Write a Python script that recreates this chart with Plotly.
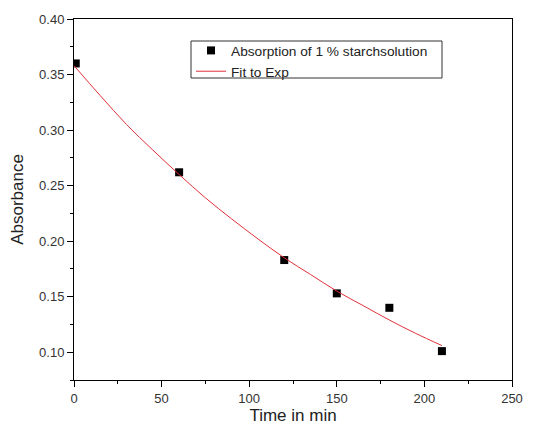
import plotly.graph_objects as go

# measured data
time_min = [1, 60, 120, 150, 180, 210]
absorbance = [0.360, 0.262, 0.183, 0.153, 0.140, 0.101]

# exponential fit curve
fit_time = [0, 15, 30, 45, 60, 75, 90, 105, 120, 135, 150, 165, 180, 195, 210]
fit_abs = [0.358, 0.331, 0.305, 0.282, 0.260, 0.239, 0.220, 0.202, 0.185,
           0.170, 0.155, 0.142, 0.129, 0.117, 0.106]

x_ticks = [0, 50, 100, 150, 200, 250]
y_ticks = [0.10, 0.15, 0.20, 0.25, 0.30, 0.35, 0.40]

FONT = "Liberation Sans, Arial, sans-serif"

# page body has an 8px margin; figure sized to fill the rest of the window
OFF = 8
W, H = 536 - OFF, 433 - OFF
ML, MT = 74 - OFF, 19 - OFF
MR = W - (512 - OFF)
MB = H - (380 - OFF)
plot_w = W - ML - MR
plot_h = H - MT - MB


def px_x(xw):
    return (xw - OFF - ML) / plot_w


def px_y(yw):
    return 1 - (yw - OFF - MT) / plot_h


fig = go.Figure()
fig.add_trace(go.Scatter(
    x=time_min, y=absorbance, mode="markers",
    name="Absorption of 1 % starchsolution",
    marker=dict(symbol="square", size=8, color="black"),
))
fig.add_trace(go.Scatter(
    x=fit_time, y=fit_abs, mode="lines", name="Fit to Exp",
    line=dict(color="#e0303a", width=1, shape="spline"),
))

axis_common = dict(
    showgrid=False, zeroline=False, showline=True, linecolor="black",
    linewidth=1, mirror=True, ticks="outside", ticklen=6, tickcolor="black",
    tickfont=dict(family=FONT, size=13, color="#333333"), automargin=False,
)

fig.update_xaxes(
    range=[0, 250], tickvals=x_ticks, ticktext=[str(v) for v in x_ticks],
    title=dict(text="Time in min", font=dict(family=FONT, size=17, color="#222222"), standoff=4),
    minor=dict(ticks="outside", ticklen=3, dtick=25, tick0=0, tickcolor="black"),
    **axis_common,
)
fig.update_yaxes(
    range=[0.075, 0.40], tickvals=y_ticks, ticktext=[f"{v:.2f}" for v in y_ticks],
    title=dict(text="Absorbance", font=dict(family=FONT, size=17, color="#222222"), standoff=12),
    minor=dict(ticks="outside", ticklen=3, dtick=0.025, tick0=0.075, tickcolor="black"),
    **axis_common,
)

# legend frame
fig.add_shape(
    type="rect", xref="paper", yref="paper",
    x0=px_x(191), x1=px_x(442), y0=px_y(78), y1=px_y(41),
    line=dict(color="#333333", width=1), fillcolor="rgba(0,0,0,0)", layer="above",
)

fig.update_layout(
    width=W, height=H,
    margin=dict(l=ML, r=MR, t=MT, b=MB),
    paper_bgcolor="white", plot_bgcolor="white",
    showlegend=True,
    legend=dict(
        x=px_x(191), y=px_y(35),
        xanchor="left", yanchor="top",
        borderwidth=0, bgcolor="rgba(0,0,0,0)",
        font=dict(family=FONT, size=13.7, color="#222222"),
        tracegroupgap=0, itemwidth=30,
    ),
    font=dict(family=FONT),
)

fig.write_html("out.html")
